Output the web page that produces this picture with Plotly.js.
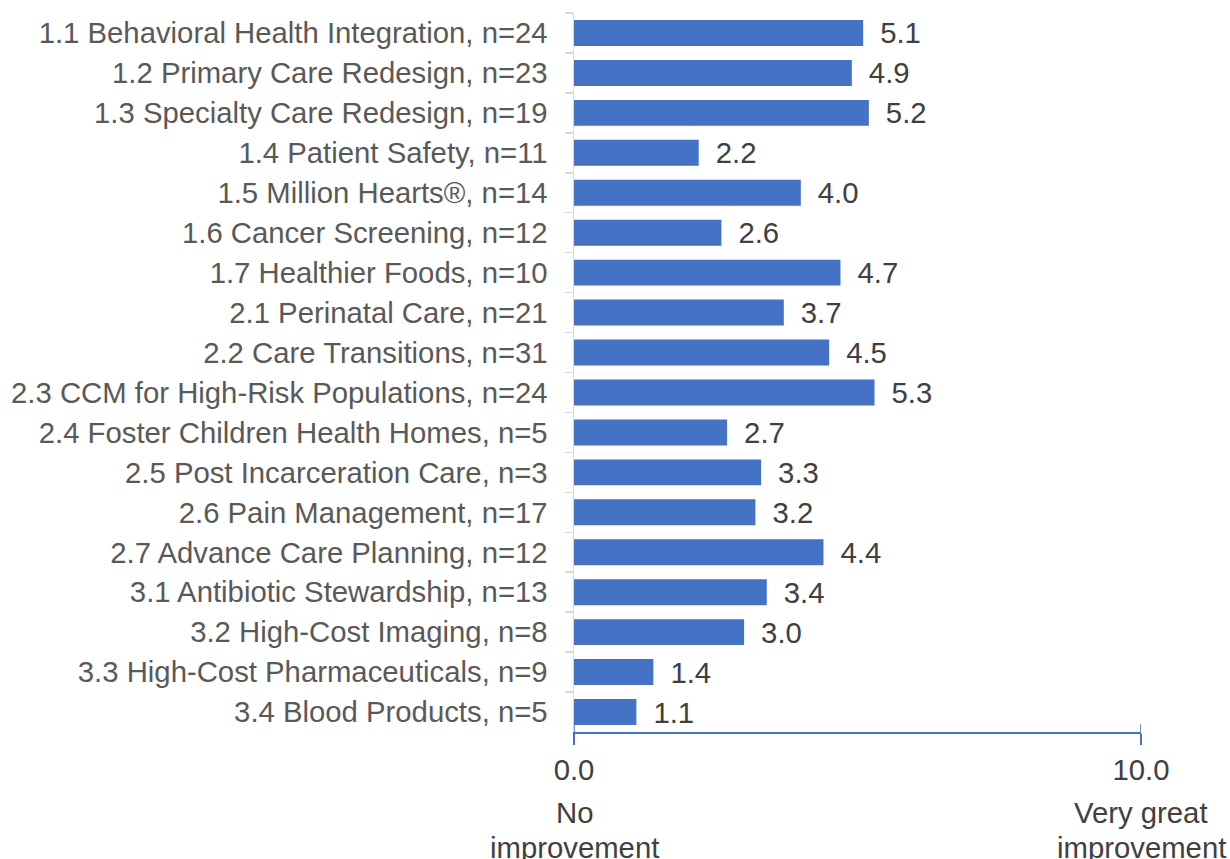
<!DOCTYPE html>
<html>
<head>
<meta charset="utf-8">
<script src="https://cdn.plot.ly/plotly-3.0.1.min.js"></script>
<style>
  html, body { margin: 0; padding: 0; background: #ffffff; }
  #chart { width: 1230px; height: 859px; }
</style>
</head>
<body>
<div id="chart"></div>
<script>
const categories = [
  "1.1 Behavioral Health Integration, n=24",
  "1.2 Primary Care Redesign, n=23",
  "1.3 Specialty Care Redesign, n=19",
  "1.4 Patient Safety, n=11",
  "1.5 Million Hearts®, n=14",
  "1.6 Cancer Screening, n=12",
  "1.7 Healthier Foods, n=10",
  "2.1 Perinatal Care, n=21",
  "2.2 Care Transitions, n=31",
  "2.3 CCM for High-Risk Populations, n=24",
  "2.4 Foster Children Health Homes, n=5",
  "2.5 Post Incarceration Care, n=3",
  "2.6 Pain Management, n=17",
  "2.7 Advance Care Planning, n=12",
  "3.1 Antibiotic Stewardship, n=13",
  "3.2 High-Cost Imaging, n=8",
  "3.3 High-Cost Pharmaceuticals, n=9",
  "3.4 Blood Products, n=5"
];
const scores = [5.1, 4.9, 5.2, 2.2, 4.0, 2.6, 4.7, 3.7, 4.5, 5.3, 2.7, 3.3, 3.2, 4.4, 3.4, 3.0, 1.4, 1.1];
const xTickValues = [0, 10];
const xTickLabels = ["0.0", "10.0"];
const xEndLabels = [["No", "improvement"], ["Very great", "improvement"]];

const FONT = "Arial, 'Liberation Sans', sans-serif";
const FS = 29.3;
const BLUE = "#4472C4";

const trace = {
  type: "bar",
  orientation: "h",
  y: categories,
  x: scores,
  marker: { color: BLUE },
  text: scores.map(v => "\u00a0\u2009" + v.toFixed(1)),
  texttemplate: "%{text}",
  textposition: "outside",
  constraintext: "none",
  cliponaxis: false,
  textfont: { family: FONT, size: FS, color: "#404040" },
  hoverinfo: "skip"
};

const shapes = xTickValues.map(v => ({
  type: "line", xref: "x", yref: "paper",
  x0: v, x1: v, ysizemode: "pixel", yanchor: 0, y0: 0, y1: 8,
  line: { color: BLUE, width: 1.5 }
}));

const annotations = [];
xTickValues.forEach((v, i) => {
  xEndLabels[i].forEach((t, j) => {
    annotations.push({
      text: t, xref: "x", yref: "paper", x: v, y: 0,
      xanchor: "center", yanchor: "middle",
      yshift: j === 0 ? -80 : -115,
      showarrow: false,
      font: { family: FONT, size: FS, color: "#404040" }
    });
  });
});

const layout = {
  width: 1230, height: 859,
  margin: { l: 574, r: 88.5, t: 13, b: 127, pad: 0 },
  paper_bgcolor: "#ffffff", plot_bgcolor: "#ffffff",
  bargap: 0.35,
  showlegend: false,
  font: { family: FONT, size: FS, color: "#595959" },
  xaxis: {
    range: [0, 10],
    tickvals: xTickValues,
    ticktext: xTickLabels,
    ticks: "outside", ticklen: 11, tickwidth: 1.5, tickcolor: BLUE,
    showline: true, linecolor: BLUE, linewidth: 1.5,
    showgrid: false, zeroline: false,
    tickfont: { family: FONT, size: FS, color: "#404040" },
    fixedrange: true
  },
  yaxis: {
    type: "category",
    autorange: "reversed",
    showline: true, linecolor: "#D9D9D9", linewidth: 1.5,
    ticks: "outside", tickson: "boundaries", ticklen: 8, tickcolor: "#D9D9D9", tickwidth: 1.5,
    ticklabelstandoff: 19,
    showgrid: false, zeroline: false,
    tickfont: { family: FONT, size: FS, color: "#595959" },
    fixedrange: true
  },
  shapes: shapes,
  annotations: annotations
};

Plotly.newPlot("chart", [trace], layout, { displayModeBar: false, staticPlot: true });
</script>
</body>
</html>
